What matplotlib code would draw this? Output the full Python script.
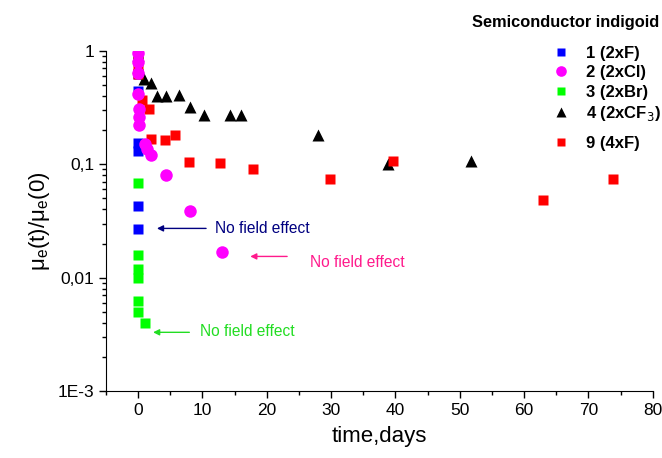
import numpy as np
import matplotlib.pyplot as plt
from matplotlib.ticker import FixedLocator, FuncFormatter, LogLocator, NullFormatter, MultipleLocator

plt.rcParams['font.family'] = ['Liberation Sans', 'DejaVu Sans']

# 1 (2xF)
t_f = [0, 0, 0, 0, 0, 0, 0]
mu_f = [0.9, 0.63, 0.44, 0.155, 0.13, 0.043, 0.027]
# 2 (2xCl)
t_cl = [0, 0, 0, 0, 0.15, 0.2, 0.1, 1.0, 1.4, 2.0, 4.4, 8.1, 13.0]
mu_cl = [0.95, 0.79, 0.64, 0.42, 0.31, 0.26, 0.22, 0.15, 0.135, 0.12, 0.08, 0.039, 0.0167]
# 3 (2xBr)
t_br = [0, 0, 0, 0, 0, 0, 0, 1.1]
mu_br = [0.9, 0.069, 0.016, 0.012, 0.0099, 0.0062, 0.005, 0.004]
# 4 (2xCF3)
t_cf3 = [0, 0, 0.9, 2.0, 3.0, 4.4, 6.4, 8.1, 10.3, 14.3, 16.0, 28.0, 38.9, 51.8]
mu_cf3 = [0.92, 0.72, 0.57, 0.52, 0.40, 0.40, 0.41, 0.32, 0.27, 0.27, 0.27, 0.18, 0.10, 0.106]
# 9 (4xF)
t_4f = [0, 0, 0, 0.6, 1.7, 2.0, 4.2, 5.8, 7.9, 12.8, 17.9, 29.9, 39.7, 62.9, 73.8]
mu_4f = [0.93, 0.75, 0.62, 0.37, 0.31, 0.166, 0.163, 0.18, 0.104, 0.102, 0.090, 0.074, 0.106, 0.048, 0.074]

fig = plt.figure(figsize=(6.62, 4.58), dpi=100)
ax = fig.add_axes([0.160, 0.146, 0.826, 0.743])

h1, = ax.plot(t_f, mu_f, 's', color='#0000ff', ms=7, mec='none', label='1 (2xF)', zorder=2)
h2, = ax.plot(t_cl, mu_cl, 'o', color='#ff00ff', ms=9, mec='none', label='2 (2xCl)', zorder=6)
h3, = ax.plot(t_br, mu_br, 's', color='#00ff00', ms=7, mec='none', label='3 (2xBr)', zorder=3)
h4, = ax.plot(t_cf3, mu_cf3, '^', color='black', ms=9, mec='none', label='4 (2xCF$_3$)', zorder=4)
h9, = ax.plot(t_4f, mu_4f, 's', color='#ff0000', ms=7, mec='none', label='9 (4xF)', zorder=5)

ax.set_yscale('log')
ax.set_xlim(-5, 80)
ax.set_ylim(1e-3, 1)

ax.xaxis.set_major_locator(MultipleLocator(10))
ax.xaxis.set_minor_locator(MultipleLocator(5))
ax.yaxis.set_major_locator(FixedLocator([1e-3, 1e-2, 1e-1, 1]))
ax.yaxis.set_minor_locator(LogLocator(base=10, subs=np.arange(2, 10)))
ax.yaxis.set_minor_formatter(NullFormatter())
ylabels = {1e-3: '1E-3', 1e-2: '0,01', 1e-1: '0,1', 1: '1'}
ax.yaxis.set_major_formatter(FuncFormatter(
    lambda v, p: min(ylabels.items(), key=lambda kv: abs(np.log10(kv[0]) - np.log10(v)))[1]))

ax.spines['top'].set_visible(False)
ax.spines['right'].set_visible(False)
ax.tick_params(which='major', length=5, width=1, labelsize=12.5, direction='out')
ax.tick_params(which='minor', length=3, width=1, direction='out')

ax.set_xlabel('time,days', fontsize=16, labelpad=6)
ax.set_ylabel(r'$\mathregular{\mu_e(t)/\mu_e(0)}$', fontsize=16, labelpad=4)

# annotations
ax.annotate('', xy=(2.5, 0.0272), xytext=(11.0, 0.0272),
            arrowprops=dict(arrowstyle='-|>', color='#000080', lw=1, mutation_scale=9))
ax.text(12.0, 0.0272, 'No field effect', color='#000080', fontsize=11.2, va='center')
ax.annotate('', xy=(17.0, 0.0154), xytext=(23.6, 0.0154),
            arrowprops=dict(arrowstyle='-|>', color='#ff1a8c', lw=1, mutation_scale=9))
ax.text(26.8, 0.0136, 'No field effect', color='#ff1a8c', fontsize=11.2, va='center')
ax.annotate('', xy=(1.9, 0.0033), xytext=(8.4, 0.0033),
            arrowprops=dict(arrowstyle='-|>', color='#22dd22', lw=1, mutation_scale=9))
ax.text(9.65, 0.00335, 'No field effect', color='#22dd22', fontsize=11.2, va='center')

# legend: title, first four entries, then 9 (4xF) a bit lower
fig.text(566 / 662, 1 - 22 / 458, 'Semiconductor indigoid', fontsize=11.8, fontweight='bold',
         ha='center', va='center')
legkw = dict(frameon=False, prop={'weight': 'bold', 'size': 12}, handletextpad=0.5,
             labelspacing=0.27, borderaxespad=0, borderpad=0.4, markerscale=0.85,
             bbox_transform=fig.transFigure, loc='upper left')
leg1 = ax.legend(handles=[h1, h2, h3, h4], bbox_to_anchor=(538 / 662, 1 - 39 / 458), **legkw)
ax.add_artist(leg1)
ax.legend(handles=[h9], bbox_to_anchor=(538 / 662, 1 - 129 / 458), **legkw)

fig.savefig('out.png', dpi=100)
